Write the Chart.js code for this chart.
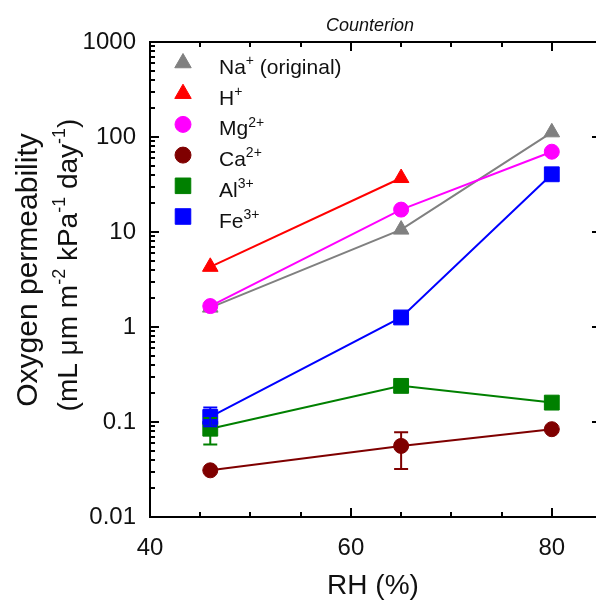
<!DOCTYPE html>
<html>
<head>
<meta charset="utf-8">
<script src="https://cdn.jsdelivr.net/npm/chart.js@4"></script>
<style>
  body { margin: 0; background: #fff; overflow: hidden; }
  #wrap { width: 596px; height: 603px; }
</style>
</head>
<body>
<div id="wrap"><canvas id="myChart"></canvas></div>
<script>
// relative humidity (%)
var rh = [46, 65, 80];

// oxygen permeability per counterion
var na = [1.6, 10.6, 112];
var h = [4.3, 37];
var mg = [1.66, 17.2, 70];
var ca = [0.031, 0.056, 0.084];
var al = [0.085, 0.24, 0.16];
var fe = [0.113, 1.26, 40.5];

// error bars (low, high), null where none shown
var caLow = [null, 0.032, null];
var caHigh = [null, 0.078, null];
var alLow = [0.058, null, null];
var alHigh = [0.11, null, null];
var feLow = [0.09, null, null];
var feHigh = [0.142, null, null];

// legend text
var ionNames = ['Na', 'H', 'Mg', 'Ca', 'Al', 'Fe'];
var ionCharges = ['+', '+', '2+', '2+', '3+', '3+'];
var ionNotes = [' (original)', '', '', '', '', ''];

var yTickLabels = ['0.01', '0.1', '1', '10', '100', '1000'];

function points(vals) {
    return vals.map(function (v, i) { return { x: rh[i], y: v }; });
}

function makeSet(vals, color, style, radius, low, high, order) {
    return {
        data: points(vals),
        borderColor: color,
        backgroundColor: color,
        pointBackgroundColor: color,
        pointBorderColor: color,
        pointBorderWidth: 1,
        pointStyle: style,
        pointRadius: radius,
        pointHoverRadius: radius,
        borderWidth: 2,
        showLine: true,
        tension: 0,
        errLow: low,
        errHigh: high,
        order: order
    };
}

var FONT = 'Liberation Sans, Arial, sans-serif';

// draw text with superscript pieces, returns width
function richText(ctx, parts, x, y, size, measureOnly) {
    var w = 0;
    parts.forEach(function (p) {
        var sup = p[1];
        ctx.font = (sup ? Math.round(size * 0.66) : size) + 'px ' + FONT;
        if (!measureOnly) ctx.fillText(p[0], x + w, sup ? y - size * 0.42 : y);
        w += ctx.measureText(p[0]).width;
    });
    return w;
}

var decorPlugin = {
    id: 'decor',
    afterDatasetsDraw: function (chart) {
        var ctx = chart.ctx;
        var ys = chart.scales.y;
        ctx.save();
        chart.data.datasets.forEach(function (ds) {
            if (!ds.errLow) return;
            ds.data.forEach(function (p, i) {
                if (ds.errLow[i] == null) return;
                var px = chart.scales.x.getPixelForValue(p.x);
                var y1 = ys.getPixelForValue(ds.errLow[i]);
                var y2 = ys.getPixelForValue(ds.errHigh[i]);
                ctx.strokeStyle = ds.borderColor;
                ctx.lineWidth = 2;
                ctx.beginPath();
                ctx.moveTo(px, y1); ctx.lineTo(px, y2);
                ctx.moveTo(px - 7, y1); ctx.lineTo(px + 7, y1);
                ctx.moveTo(px - 7, y2); ctx.lineTo(px + 7, y2);
                ctx.stroke();
            });
        });
        ctx.restore();
    },
    afterDraw: function (chart) {
        var ctx = chart.ctx;
        var a = chart.chartArea;
        var xs = chart.scales.x, ys = chart.scales.y;
        ctx.save();
        ctx.strokeStyle = '#000';
        ctx.lineWidth = 2;
        ctx.beginPath();
        // top frame line
        ctx.moveTo(a.left - 1, a.top); ctx.lineTo(a.right, a.top);
        // x ticks, bottom and top, pointing inward
        for (var v = 40; v <= xs.max; v += 5) {
            var px = Math.round(xs.getPixelForValue(v));
            var len = v % 20 === 0 ? 9 : 5;
            ctx.moveTo(px, a.bottom); ctx.lineTo(px, a.bottom - len);
            ctx.moveTo(px, a.top); ctx.lineTo(px, a.top + len);
        }
        // y ticks, log minor
        for (var e = -2; e <= 3; e++) {
            for (var m = 1; m <= 9; m++) {
                var val = m * Math.pow(10, e);
                if (val > 1000.0001) break;
                var py = Math.round(ys.getPixelForValue(val));
                var l = m === 1 ? 9 : 5;
                ctx.moveTo(a.left, py); ctx.lineTo(a.left + l, py);
                if (m === 1) { ctx.moveTo(a.right, py); ctx.lineTo(a.right - 4, py); }
            }
        }
        ctx.stroke();

        // title
        ctx.fillStyle = '#111';
        ctx.font = 'italic 18px ' + FONT;
        ctx.textAlign = 'center';
        ctx.textBaseline = 'alphabetic';
        ctx.fillText('Counterion', (a.left + a.right) / 2 - 3, 31);

        // legend
        ctx.textAlign = 'left';
        chart.data.datasets.forEach(function (ds, i) {
            var cy = 63 + i * 30.7;
            ctx.fillStyle = ds.backgroundColor;
            ctx.strokeStyle = ds.backgroundColor;
            ctx.lineWidth = 1;
            Chart.helpers.drawPoint(ctx, {
                pointStyle: ds.pointStyle,
                radius: ds.pointRadius + 0.5,
                rotation: 0,
                borderWidth: 1
            }, 183, cy);
            ctx.fillStyle = '#111';
            richText(ctx, [[ionNames[i], false], [ionCharges[i], true], [ionNotes[i], false]], 219, cy + 11, 21);
        });

        // y axis title, two lines
        ctx.save();
        ctx.rotate(-Math.PI / 2);
        ctx.fillStyle = '#111';
        ctx.font = '30px ' + FONT;
        ctx.textAlign = 'center';
        ctx.fillText('Oxygen permeability', -270, 37);
        ctx.textAlign = 'left';
        var parts = [['(mL \u03bcm m', false], ['-2', true], [' kPa', false], ['-1', true], [' day', false], ['-1', true], [')', false]];
        var w = richText(ctx, parts, 0, 0, 28, true);
        richText(ctx, parts, -265 - w / 2, 77, 28);
        ctx.restore();
        ctx.restore();
    }
};

var datasets = [
    makeSet(na, '#808080', 'triangle', 9, null, null, 6),
    makeSet(h, '#ff0000', 'triangle', 9, null, null, 5),
    makeSet(mg, '#ff00ff', 'circle', 7.5, null, null, 4),
    makeSet(ca, '#7f0000', 'circle', 7.5, caLow, caHigh, 3),
    makeSet(al, '#008000', 'rect', 10.5, alLow, alHigh, 2),
    makeSet(fe, '#0000ff', 'rect', 10.5, feLow, feHigh, 1)
];

new Chart(document.getElementById('myChart'), {
    type: 'scatter',
    data: { datasets: datasets },
    options: {
        responsive: true,
        maintainAspectRatio: false,
        animation: false,
        layout: { autoPadding: false, padding: { top: 42, right: 0, left: 0, bottom: 0 } },
        plugins: {
            legend: { display: false },
            tooltip: { enabled: false }
        },
        scales: {
            x: {
                type: 'linear',
                min: 40,
                max: 84.4,
                afterFit: function (s) { s.height = 86; },
                afterBuildTicks: function (s) {
                    s.ticks = [40, 60, 80].map(function (v) { return { value: v }; });
                },
                grid: { display: false, drawTicks: false },
                border: { display: true, color: '#000', width: 2 },
                ticks: {
                    padding: 17,
                    color: '#111',
                    font: { family: FONT, size: 24 },
                    maxRotation: 0,
                    autoSkip: false
                },
                title: {
                    display: true,
                    text: 'RH (%)',
                    color: '#111',
                    font: { family: FONT, size: 28 },
                    padding: { top: 0, bottom: 0 }
                }
            },
            y: {
                type: 'logarithmic',
                min: 0.01,
                max: 1000,
                afterFit: function (s) { s.width = 150; },
                afterBuildTicks: function (s) {
                    s.ticks = yTickLabels.map(function (t) { return { value: parseFloat(t) }; });
                },
                grid: { display: false, drawTicks: false },
                border: { display: true, color: '#000', width: 2 },
                ticks: {
                    padding: 14,
                    color: '#111',
                    font: { family: FONT, size: 24 },
                    autoSkip: false,
                    callback: function (v) {
                        var idx = yTickLabels.map(parseFloat).indexOf(v);
                        return idx >= 0 ? yTickLabels[idx] : '';
                    }
                }
            }
        }
    },
    plugins: [decorPlugin]
});
</script>
</body>
</html>
